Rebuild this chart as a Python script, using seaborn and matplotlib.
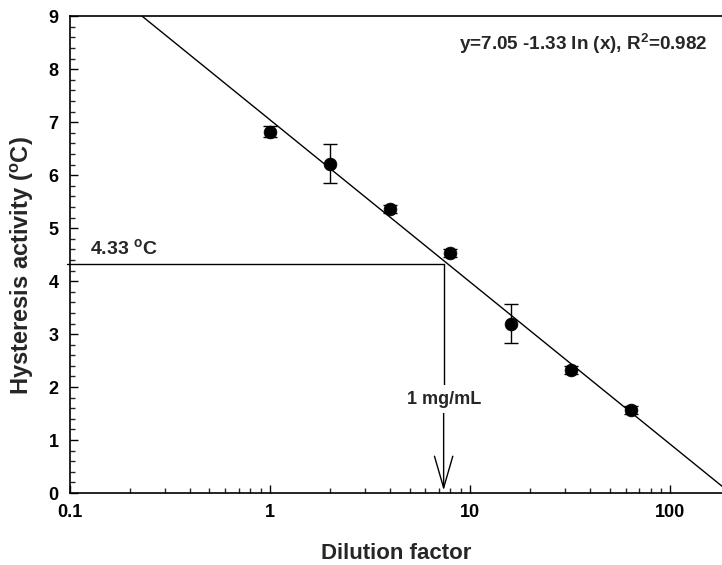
import numpy as np
import pandas as pd
import matplotlib
matplotlib.use("Agg")
import matplotlib.pyplot as plt
import seaborn as sns
from matplotlib.ticker import LogLocator, MultipleLocator, FixedLocator, FixedFormatter, NullFormatter

# Data
dilution = [1, 2, 4, 8, 16, 32, 64]
activity = [6.82, 6.22, 5.36, 4.53, 3.20, 2.32, 1.57]
err = [0.10, 0.37, 0.08, 0.08, 0.36, 0.08, 0.07]
fit_coef = [7.05, -1.33]  # y = a + b ln(x)
target_y = 4.33
target_x = 7.4
xticks = [0.1, 1, 10, 100]
xticklabels = ["0.1", "1", "10", "100"]

sns.set_theme(style="ticks")
plt.rcParams['font.family'] = ['Liberation Sans', 'DejaVu Sans']
plt.rcParams['mathtext.fontset'] = 'custom'
plt.rcParams['mathtext.bf'] = 'Liberation Sans:bold'
plt.rcParams['mathtext.rm'] = 'Liberation Sans'

fig = plt.figure(figsize=(7.22, 5.65), dpi=100)
ax = fig.add_axes([0.0963, 0.1274, 0.9037, 0.8438])

df = pd.DataFrame({"x": dilution, "y": activity, "e": err})

# fit line
xx = np.logspace(np.log10(0.1), np.log10(200), 200)
yy = fit_coef[0] + fit_coef[1] * np.log(xx)
sns.lineplot(x=xx, y=yy, ax=ax, color="black", linewidth=1.0, zorder=2)

ax.errorbar(df["x"], df["y"], yerr=df["e"], fmt="none", ecolor="black",
            elinewidth=1.0, capsize=5, capthick=1.0, zorder=3)
sns.scatterplot(data=df, x="x", y="y", ax=ax, color="black", s=85,
                edgecolor="black", linewidth=0.5, zorder=4)

ax.set_xscale("log")
ax.set_xlim(0.1, 182)
ax.set_ylim(0, 9)

# guide lines
ax.plot([0.097, target_x], [target_y, target_y], color="black", lw=1.0,
        clip_on=False, zorder=2)
ax.plot([target_x, target_x], [target_y, 2.0], color="black", lw=1.0, zorder=2)
ax.annotate("", xy=(target_x, 0.05), xytext=(target_x, 2.0),
            arrowprops=dict(arrowstyle="->,head_length=1.9,head_width=0.55",
                            color="black", lw=1.0, shrinkA=0, shrinkB=0))
ax.text(target_x, 1.77, "1 mg/mL", ha="center", va="center", fontsize=13,
        fontweight="bold", bbox=dict(facecolor="white", edgecolor="none", pad=4),
        zorder=5)
ax.text(0.126, 4.62, r"4.33 $^\mathbf{o}$C", ha="left", va="center", fontsize=14,
        fontweight="bold")
ax.text(0.9775, 0.942, r"y=7.05 -1.33 ln (x), R$^\mathbf{2}$=0.982", transform=ax.transAxes,
        ha="right", va="center", fontsize=13.6, fontweight="bold")

ax.xaxis.set_major_locator(FixedLocator(xticks))
ax.xaxis.set_major_formatter(FixedFormatter(xticklabels))
ax.xaxis.set_minor_locator(LogLocator(base=10, subs=np.arange(2, 10)))
ax.xaxis.set_minor_formatter(NullFormatter())
ax.yaxis.set_major_locator(MultipleLocator(1))
ax.yaxis.set_minor_locator(MultipleLocator(0.2))

ax.tick_params(which="major", direction="in", length=6, width=1.0,
               labelsize=13, pad=8, colors="black")
ax.tick_params(which="minor", direction="in", length=3.5, width=1.0)
for lbl in ax.get_xticklabels() + ax.get_yticklabels():
    lbl.set_fontweight("bold")

for side in ["left", "bottom", "top"]:
    ax.spines[side].set_linewidth(1.2)
    ax.spines[side].set_color("black")
ax.spines["right"].set_visible(False)

ax.set_xlabel("Dilution factor", fontsize=16, fontweight="bold")
ax.set_ylabel(r"Hysteresis activity ($^\mathbf{o}$C)", fontsize=17,
              fontweight="bold")
ax.xaxis.set_label_coords(0.5, -0.105)
ax.yaxis.set_label_coords(-0.052, 0.476)

fig.savefig("out.png", dpi=100)
